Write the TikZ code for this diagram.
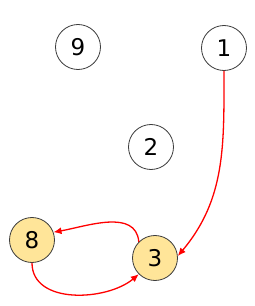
\documentclass[tikz,border=0pt]{standalone}
\usepackage{fontspec}
\setmainfont{DejaVu Sans}
\usepackage{xcolor}
\usetikzlibrary{arrows.meta}
\definecolor{nodefill}{RGB}{255,229,153}
\definecolor{nodeline}{RGB}{60,60,60}
\tikzset{
  vertex/.style={circle, minimum size=45pt, inner sep=0pt, draw=nodeline, line width=0.8pt, fill=white, font=\fontsize{23}{23}\selectfont},
  marked/.style={vertex, fill=nodefill},
  edge/.style={red, line width=1.3pt, -{Latex[length=8pt,width=7pt]}}
}

\begin{document}
\begin{tikzpicture}[x=1pt, y=1pt]
\useasboundingbox (0,0) rectangle (255,306);
% vertices
\node[vertex] (n9) at (78,259) {9};
\node[vertex] (n1) at (224,258) {1};
\node[vertex] (n2) at (151,159) {2};
\node[marked] (n8) at (32,66) {8};
\node[marked] (n3) at (155,48) {3};

% edges
\draw[edge] (n1.south) to[out=-90, in=50] (n3.5);
\draw[edge] (n3.135) to[out=95, in=10] (n8.20);
\draw[edge] (n8.south) to[out=-90, in=-140] (n3.-135);
\end{tikzpicture}
\end{document}
